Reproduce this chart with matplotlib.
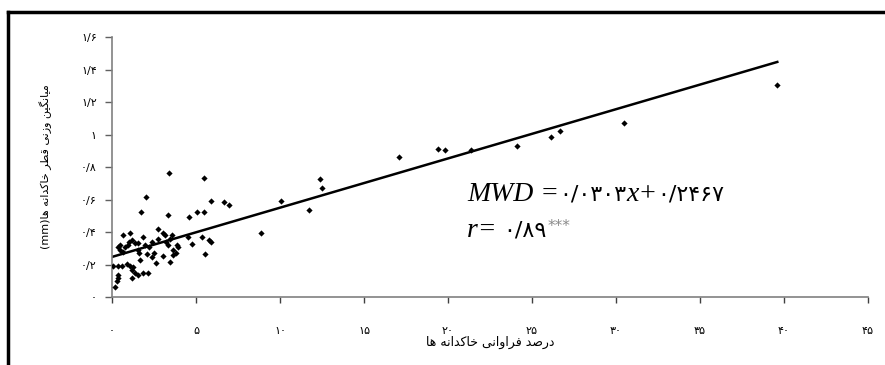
import matplotlib
matplotlib.use('Agg')
import matplotlib.pyplot as plt
from matplotlib.lines import Line2D
import numpy as np

# ---------------- data ----------------
x_vals = [0.18, 0.28, 0.34, 0.38, 0.08, 0.38, 0.58, 0.87, 1.07, 1.27, 1.17,
          1.37, 1.57, 1.87, 2.16, 1.21, 2.60, 1.67, 2.36, 2.06, 2.51,
          0.48, 0.67, 1.57, 1.63, 0.34, 0.77, 0.48, 1.37, 1.57, 1.96, 2.22,
          1.17, 1.87, 2.36, 2.72, 0.67, 1.07, 2.76, 3.06, 3.15, 3.59,
          3.21, 3.31, 3.65, 3.85, 3.95, 4.54, 4.78, 5.38, 5.89, 5.79,
          5.54, 3.06, 3.45, 3.65, 3.79, 0.95, 1.00, 3.45,
          1.71, 2.04, 3.39, 3.35, 4.58, 5.08, 5.48, 5.48, 5.89, 6.67, 6.95,
          8.85, 10.06, 11.73, 12.38, 12.48,
          17.1, 19.4, 19.8, 21.35, 24.1, 26.1, 26.67, 30.5, 39.6]
y_vals = [0.063, 0.100, 0.115, 0.135, 0.190, 0.190, 0.190, 0.203, 0.190, 0.183, 0.166,
          0.146, 0.135, 0.146, 0.146, 0.115, 0.207, 0.228, 0.244, 0.265, 0.273,
          0.289, 0.279, 0.289, 0.273, 0.306, 0.306, 0.320, 0.334, 0.330, 0.320, 0.310,
          0.351, 0.367, 0.340, 0.359, 0.382, 0.396, 0.417, 0.392, 0.382, 0.382,
          0.340, 0.320, 0.289, 0.320, 0.310, 0.367, 0.324, 0.371, 0.340, 0.350,
          0.265, 0.252, 0.217, 0.258, 0.269, 0.320, 0.340, 0.355,
          0.523, 0.613, 0.765, 0.505, 0.494, 0.523, 0.523, 0.734, 0.593, 0.587, 0.566,
          0.396, 0.593, 0.535, 0.724, 0.673,
          0.863, 0.913, 0.905, 0.905, 0.931, 0.983, 1.023, 1.073, 1.303]

slope = 0.0303
intercept = 0.2467

xticks = [0, 5, 10, 15, 20, 25, 30, 35, 40, 45]
xtick_labels = ['۰', '۵', '۱۰', '۱۵', '۲۰', '۲۵', '۳۰', '۳۵', '۴۰', '۴۵']
yticks = [0, 0.2, 0.4, 0.6, 0.8, 1.0, 1.2, 1.4, 1.6]
ytick_labels = ['۰', '۰/۲', '۰/۴', '۰/۶', '۰/۸', '۱', '۱/۲', '۱/۴', '۱/۶']

xlabel = 'درصد فراوانی خاکدانه ها'
ylabel = 'میانگین وزنی قطر خاکدانه ها'
ylabel_unit = '(mm)'
eq_label = 'MWD =۰/۰۳۰۳x+۰/۲۴۶۷'
r_label = 'r= ۰/۸۹'
sig_label = '***'

# ------------- simple Persian shaping (presentation forms + visual order) -------------
FORMS = {
    'ا': ('\uFE8D', '\uFE8E', None, None),
    'د': ('\uFEA9', '\uFEAA', None, None),
    'ر': ('\uFEAD', '\uFEAE', None, None),
    'ز': ('\uFEAF', '\uFEB0', None, None),
    'و': ('\uFEED', '\uFEEE', None, None),
    'ص': ('\uFEB9', '\uFEBA', '\uFEBB', '\uFEBC'),
    'ف': ('\uFED1', '\uFED2', '\uFED3', '\uFED4'),
    'ن': ('\uFEE5', '\uFEE6', '\uFEE7', '\uFEE8'),
    'خ': ('\uFEA5', '\uFEA6', '\uFEA7', '\uFEA8'),
    'ه': ('\uFEE9', '\uFEEA', '\uFEEB', '\uFEEC'),
    'م': ('\uFEE1', '\uFEE2', '\uFEE3', '\uFEE4'),
    'ق': ('\uFED5', '\uFED6', '\uFED7', '\uFED8'),
    'ط': ('\uFEC1', '\uFEC2', '\uFEC3', '\uFEC4'),
    '\u06CC': ('\uFBFC', '\uFBFD', '\uFBFE', '\uFBFF'),
    '\u06A9': ('\uFB8E', '\uFB8F', '\uFB90', '\uFB91'),
    'گ': ('\uFB92', '\uFB93', '\uFB94', '\uFB95'),
}


def shape(s):
    s = s.replace('\u064A', '\u06CC').replace('\u0643', '\u06A9')
    out = []
    for i, c in enumerate(s):
        if c not in FORMS:
            out.append(c)
            continue
        f = FORMS[c]
        prev = s[i - 1] if i > 0 else ''
        nxt = s[i + 1] if i + 1 < len(s) else ''
        jp = prev in FORMS and FORMS[prev][2] is not None
        jn = nxt in FORMS and f[2] is not None
        if jp and jn:
            out.append(f[3])
        elif jp:
            out.append(f[1])
        elif jn:
            out.append(f[2])
        else:
            out.append(f[0])
    return ''.join(reversed(out))


# ---------------- figure ----------------
fig = plt.figure(figsize=(8.85, 3.65), dpi=100)
ax = fig.add_axes([0.1266, 0.1863, 0.8542, 0.7123])

ax.scatter(x_vals, y_vals, marker='D', s=10, color='black', linewidths=0, zorder=3)
line_x = np.array([0, max(x_vals)])
ax.plot(line_x, slope * line_x + intercept, color='black', lw=1.8, zorder=2)

ax.set_xlim(0, 45)
ax.set_ylim(0, 1.6)
ax.set_xticks(xticks)
ax.set_xticklabels(xtick_labels, fontfamily='DejaVu Sans', fontsize=8)
ax.set_yticks(yticks)
ax.set_yticklabels(ytick_labels, fontfamily='DejaVu Sans', fontsize=8)

for side in ['top', 'right']:
    ax.spines[side].set_visible(False)
for side in ['left', 'bottom']:
    ax.spines[side].set_color('#808080')
    ax.spines[side].set_linewidth(1.2)
ax.tick_params(axis='x', direction='out', length=4, width=1, color='#404040', pad=17)
ax.tick_params(axis='y', direction='out', length=5, width=1, color='#606060', pad=6)

ax.set_xlabel(shape(xlabel), fontfamily='DejaVu Sans', fontsize=9, labelpad=0)
ax.set_ylabel(ylabel_unit + shape(ylabel), fontfamily='DejaVu Sans', fontsize=8, labelpad=21)

# frame around the figure (top and left visible)
fig.add_artist(Line2D([0.009, 0.009], [0, 0.967], transform=fig.transFigure, color='black', lw=2.5))
fig.add_artist(Line2D([0.009, 1.0], [0.967, 0.967], transform=fig.transFigure, color='black', lw=2.5))

# ---------------- equation text ----------------
persian_chars = set('۰۱۲۳۴۵۶۷۸۹/')


def split_runs(s):
    runs = []
    for c in s:
        kind = c in persian_chars
        if runs and runs[-1][1] == kind:
            runs[-1][0] += c
        else:
            runs.append([c, kind])
    return runs


def draw_runs(s, x0, y0, serif_size, sans_size):
    fig.canvas.draw()
    renderer = fig.canvas.get_renderer()
    xd, yd = ax.transAxes.transform((x0, y0))
    last = None
    for txt, is_digit in split_runs(s):
        if is_digit:
            kw = dict(fontfamily='DejaVu Sans', fontsize=sans_size, fontstyle='normal')
        else:
            kw = dict(fontfamily='Liberation Serif', fontsize=serif_size, fontstyle='italic')
        xa, ya = ax.transAxes.inverted().transform((xd, yd))
        last = ax.text(xa, ya, txt, transform=ax.transAxes, va='baseline', ha='left', **kw)
        bb = last.get_window_extent(renderer)
        xd = bb.x1
    return xd, yd


draw_runs(eq_label, 0.4696, 0.370, 20, 16)
xe, ye = draw_runs(r_label, 0.4696, 0.232, 20, 16)
xa, ya = ax.transAxes.inverted().transform((xe + 1, ye + 6))
ax.text(xa, ya, sig_label, transform=ax.transAxes, va='baseline', ha='left',
        fontfamily='DejaVu Sans', fontsize=11, color='#8a8a8a')

fig.savefig('out.png', dpi=100)
